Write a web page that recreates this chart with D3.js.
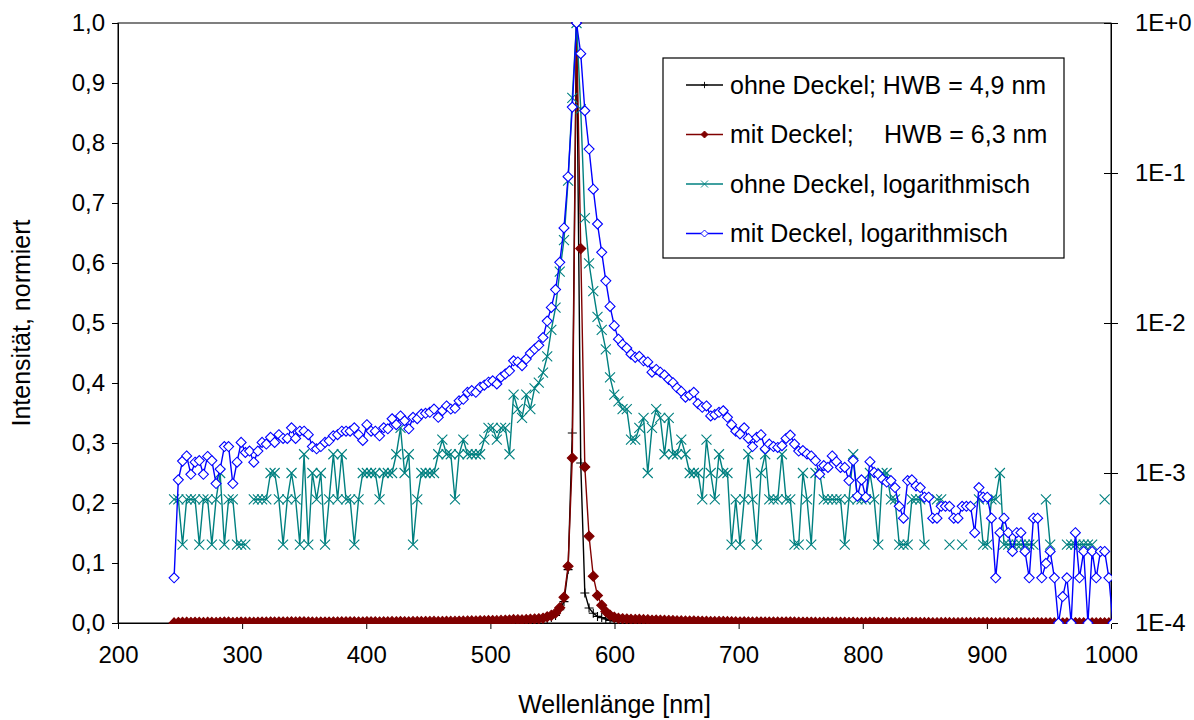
<!DOCTYPE html>
<html><head><meta charset="utf-8">
<script src="https://cdn.jsdelivr.net/npm/d3@7"></script>
<style>
html,body{margin:0;padding:0;background:#fff;}
svg text{font-family:"Liberation Sans",Arial,sans-serif;fill:#000;}
</style></head>
<body><svg id="chart" width="1194" height="720"></svg>
<script>
// Wavelength grid of the spectrometer [nm]
const wavelength = [245.2,248.6,252.0,255.3,258.7,262.1,265.5,268.8,272.2,275.6,279.0,282.3,285.7,289.1,292.5,295.9,299.2,302.6,306.0,309.4,312.7,316.1,319.5,322.9,326.2,329.6,333.0,336.4,339.8,343.1,346.5,349.9,353.3,356.6,360.0,363.4,366.8,370.1,373.5,376.9,380.3,383.7,387.0,390.4,393.8,397.2,400.5,403.9,407.3,410.7,414.1,417.4,420.8,424.2,427.6,430.9,434.3,437.7,441.1,444.4,447.8,451.2,454.6,458.0,461.3,464.7,468.1,471.5,474.8,478.2,481.6,485.0,488.3,491.7,495.1,498.5,501.9,505.2,508.6,512.0,515.4,518.7,522.1,525.5,528.9,532.2,535.6,539.0,542.4,545.8,549.1,552.5,555.9,559.3,562.6,566.0,569.4,572.8,576.1,579.5,582.9,586.3,589.7,593.0,596.4,599.8,603.2,606.5,609.9,613.3,616.7,620.0,623.4,626.8,630.2,633.6,636.9,640.3,643.7,647.1,650.4,653.8,657.2,660.6,663.9,667.3,670.7,674.1,677.5,680.8,684.2,687.6,691.0,694.3,697.7,701.1,704.5,707.8,711.2,714.6,718.0,721.4,724.7,728.1,731.5,734.9,738.2,741.6,745.0,748.4,751.8,755.1,758.5,761.9,765.3,768.6,772.0,775.4,778.8,782.1,785.5,788.9,792.3,795.7,799.0,802.4,805.8,809.2,812.5,815.9,819.3,822.7,826.0,829.4,832.8,836.2,839.6,842.9,846.3,849.7,853.1,856.4,859.8,863.2,866.6,869.9,873.3,876.7,880.1,883.5,886.8,890.2,893.6,897.0,900.3,903.7,907.1,910.5,913.8,917.2,920.6,924.0,927.4,930.7,934.1,937.5,940.9,944.2,947.6,951.0,954.4,957.7,961.1,964.5,967.9,971.3,974.6,978.0,981.4,984.8,988.1,991.5,994.9,998.3,1001.6,1005.0];

// Raw counts "ohne Deckel" (0 = no signal, left blank on the log plot)
const countsOhneDeckel = [2,2,1,2,2,2,1,2,2,1, 2,3,1,2,2,1,1,1,0,2, 2,2,2,3,3,2,1,2,3,2, 1,4,1,3,2,3,1,2,4,2,
 4,2,2,1,2,3,3,3,3,2, 3,3,3,4,6,3,4,1,2,3, 3,3,3,4,5,4,4,2,4,5, 4,4,4,4,5,6,6,5,6,6,
 4,10,8,7,10,8,11,12,14,18, 27,38,66,107,267,950,3000,800,150,75, 49,33,27,20,13,10,9,8,8,5,
 5,6,7,3,6,8,7,4,7,4, 4,5,4,3,3,3,2,5,3,2, 4,3,3,1,2,1,2,4,2,1, 3,4,2,2,2,4,2,2,1,1,
 3,2,1,3,3,2,2,2,2,2, 1,2,4,2,2,2,3,2,1,3, 3,2,2,1,1,1,2,2,2,1, 0,0,2,2,0,1,0,0,1,0,
 0,0,2,1,1,2,2,3,1,1, 1,1,1,1,1,1,0,0,2,1, 0,0,0,1,1,1,1,1,1,1, 0,0,2,0,0,0];

// Raw counts "mit Deckel"
const countsMitDeckel = [2,9,12,13,9.8,11.8,12.1,9.8,12.9,12.1, 8.5,10.6,15,15,8.5,11.8,16,13.7,14,11.8,
 14,16,15.6,17.3,16,18,17,17,20,17, 19,19,18,15,14.5,15,16,16.4,17.7,18,
 19,19,19,20,18,16.5,21,19,19,17.7, 20,19.7,23,21,24,22.3,19.7,23.5,23,24.7,
 25,25.4,26.7,23.5,26,28,26.7,27,30.3,31, 34.5,35.4,34.5,37.3,38.5,40.3,41.2,39.2,43.5,45.7,
 48,56,55,52,57.5,63,67,71,80,103, 127,167,254,430,945,2750,10000,6240,2600,1445,
 780,457,296,191,129,96,78,72,68,62, 59,60,56,55,47,49,47,45,42,40,
 37,35,32,33,34.5,29,27.4,28,24,24.5, 25.4,26,23.5,21,19,18.2,20,17,15,17.3,
 18,14.5,15.6,15,14.8,15.2,17,17.9,15.6,14, 14.1,13.4,13,12.1,9.8,11.2,10.9,13,11.9,10.9,
 10.9,8.9,12.1,7,9,6.9,11.9,10.1,9.8,9.1, 8.7,8.9,8,6,5,8.9,9,8.2,8,6.9,
 6.9,5,5,6,6,6,5,5,6,6, 6,4,8,6.9,6.9,5,2,4,5,4, 3,4,4,3,2,5,5,2,2.5,3,
 2,1,1.5,2,1,4,2,3,1,3, 2,3,3,2,1,2];

const xTicks = [200,300,400,500,600,700,800,900,1000];
const yLeftTicks = [0,0.1,0.2,0.3,0.4,0.5,0.6,0.7,0.8,0.9,1.0];
const yRightTicks = [1,0.1,0.01,0.001,0.0001];
const seriesNames = ["ohne Deckel; HWB = 4,9 nm","mit Deckel;","ohne Deckel, logarithmisch","mit Deckel, logarithmisch"];
const hwbMit = "HWB = 6,3 nm";

const n = Math.min(wavelength.length, countsOhneDeckel.length, countsMitDeckel.length);
const maxO = d3.max(countsOhneDeckel), maxM = d3.max(countsMitDeckel);
const ohne = d3.range(n).map(i => ({x: wavelength[i], v: countsOhneDeckel[i] / maxO}));
const mit  = d3.range(n).map(i => ({x: wavelength[i], v: countsMitDeckel[i] / maxM}));

const L = 118, R = 1111, T = 23, B = 623;
const svg = d3.select("#chart");
const x = d3.scaleLinear([200, 1000], [L, R]);
const yL = d3.scaleLinear([0, 1], [B, T]);
const yR = d3.scaleLog([1e-4, 1], [B, T]);
const FS = 24;

const black = "#000000", red = "#800000", teal = "#008080", blue = "#0000FF";

svg.append("defs").append("clipPath").attr("id", "plotclip")
  .append("rect").attr("x", L).attr("y", T - 1).attr("width", R - L + 1).attr("height", B - T + 2);

// plot border
svg.append("rect").attr("x", L).attr("y", T).attr("width", R - L).attr("height", B - T)
  .attr("fill", "none").attr("stroke", "#000").attr("stroke-width", 1);

const locale = d3.formatLocale({decimal: ",", thousands: ".", grouping: [3], currency: ["", ""]});
const fmt1 = locale.format(".1f");

// left axis
const gl = svg.append("g").attr("transform", `translate(${L},0)`)
  .call(d3.axisLeft(yL).tickValues(yLeftTicks).tickFormat(fmt1).tickSizeOuter(0).tickSize(6).tickPadding(7));
// bottom axis
const gb = svg.append("g").attr("transform", `translate(0,${B})`)
  .call(d3.axisBottom(x).tickValues(xTicks).tickFormat(d3.format("d")).tickSizeOuter(0).tickSize(6).tickPadding(20));
// right axis (log)
const gr = svg.append("g").attr("transform", `translate(${R},0)`)
  .call(d3.axisRight(yR).tickValues(yRightTicks)
    .tickFormat(d => { const e = Math.round(Math.log10(d)); return "1E" + (e >= 0 ? "+" + e : e); })
    .tickSizeOuter(0).tickSize(7).tickPadding(17));
gr.selectAll(".tick line").attr("x1", -7);
[gl, gb, gr].forEach(g => {
  g.select(".domain").attr("stroke", "#000");
  g.selectAll(".tick line").attr("stroke", "#000");
  g.selectAll("text").attr("font-size", FS).attr("font-family", '"Liberation Sans",Arial,sans-serif').attr("fill", "#000");
});
gb.selectAll(".tick text").attr("dy", "0.32em").attr("y", 32);

// axis titles
svg.append("text").attr("x", (L + R) / 2).attr("y", 713).attr("text-anchor", "middle")
  .attr("font-size", 25).text("Wellenlänge [nm]");
svg.append("text").attr("transform", `translate(30,${(T + B) / 2}) rotate(-90)`).attr("text-anchor", "middle")
  .attr("font-size", 25).text("Intensität, normiert");

const plot = svg.append("g").attr("clip-path", "url(#plotclip)");

const sym = {
  plus: "M-4.5,0H4.5M0,-4.5V4.5",
  cross: "M-5,-5L5,5M-5,5L5,-5",
  diamond: "M0,-5L5,0L0,5L-5,0Z"
};

function drawSeries(data, yScale, color, marker, fill, defined) {
  const line = d3.line().defined(defined).x(d => x(d.x)).y(d => yScale(d.v));
  plot.append("path").datum(data).attr("d", line).attr("fill", "none")
    .attr("stroke", color).attr("stroke-width", 1.4);
  plot.append("g").selectAll("path").data(data.filter(defined)).join("path")
    .attr("transform", d => `translate(${x(d.x)},${yScale(d.v)})`)
    .attr("d", sym[marker]).attr("stroke", color).attr("stroke-width", 1.1)
    .attr("fill", fill);
}

drawSeries(ohne, yL, black, "plus", "none", d => true);
drawSeries(mit, yL, red, "diamond", red, d => true);
drawSeries(ohne, yR, teal, "cross", "none", d => d.v > 0);
drawSeries(mit, yR, blue, "diamond", "#fff", d => d.v > 0);

// legend
const lg = svg.append("g");
lg.append("rect").attr("x", 663).attr("y", 58).attr("width", 401).attr("height", 200)
  .attr("fill", "#fff").attr("stroke", "#000").attr("stroke-width", 1.2);
const legendItems = [
  {c: black, m: "plus", f: "none"},
  {c: red, m: "diamond", f: red},
  {c: teal, m: "cross", f: "none"},
  {c: blue, m: "diamond", f: "#fff"}
];
legendItems.forEach((it, i) => {
  const cy = 85 + i * 49.5;
  lg.append("line").attr("x1", 686).attr("x2", 723).attr("y1", cy).attr("y2", cy)
    .attr("stroke", it.c).attr("stroke-width", 1.3);
  lg.append("path").attr("transform", `translate(704.5,${cy}) scale(0.7)`).attr("d", sym[it.m])
    .attr("stroke", it.c).attr("fill", it.f).attr("stroke-width", 1.3);
  const t = lg.append("text").attr("x", 730).attr("y", cy).attr("dy", "0.35em").attr("font-size", 25)
    .text(seriesNames[i]);
  if (i === 1) t.append("tspan").attr("x", 884).text(hwbMit);
});
</script></body></html>
